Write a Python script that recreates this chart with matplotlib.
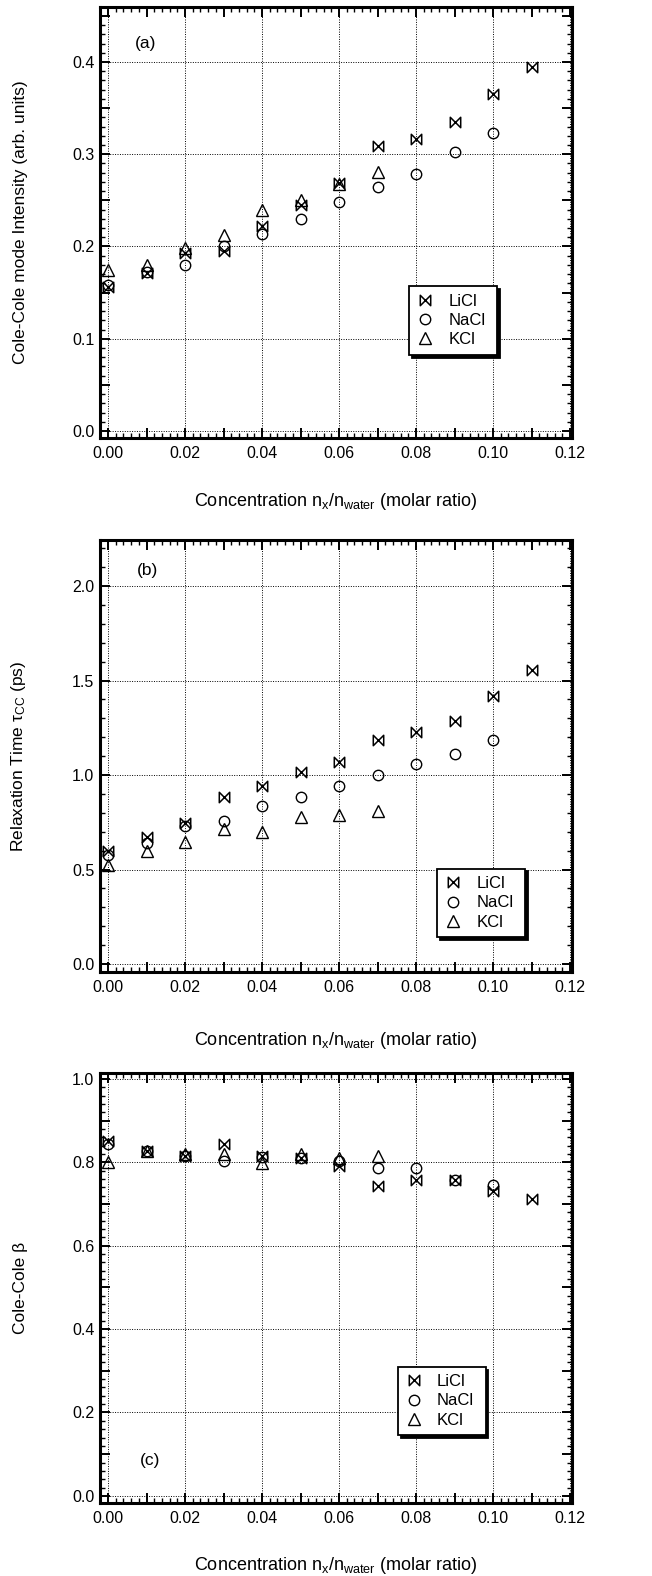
import numpy as np
import matplotlib
matplotlib.use('Agg')
import matplotlib.pyplot as plt
from matplotlib.path import Path
from matplotlib.ticker import MultipleLocator, FuncFormatter

# ---------------- DATA ----------------
conc_li = [0.00, 0.01, 0.02, 0.03, 0.04, 0.05, 0.06, 0.07, 0.08, 0.09, 0.10, 0.11]
conc_na = [0.00, 0.01, 0.02, 0.03, 0.04, 0.05, 0.06, 0.07, 0.08, 0.09, 0.10]
conc_k = [0.00, 0.01, 0.02, 0.03, 0.04, 0.05, 0.06, 0.07]

# (a) Cole-Cole mode intensity
int_licl = [0.156, 0.171, 0.193, 0.195, 0.222, 0.245, 0.269, 0.309, 0.317, 0.335, 0.365, 0.395]
int_nacl = [0.158, 0.172, 0.180, 0.200, 0.214, 0.230, 0.248, 0.265, 0.279, 0.302, 0.323]
int_kcl = [0.174, 0.180, 0.198, 0.212, 0.240, 0.250, 0.268, 0.281]

# (b) relaxation time tau_CC (ps)
tau_licl = [0.600, 0.672, 0.746, 0.882, 0.940, 1.014, 1.069, 1.188, 1.226, 1.285, 1.421, 1.555]
tau_nacl = [0.578, 0.643, 0.733, 0.758, 0.838, 0.882, 0.944, 0.998, 1.059, 1.113, 1.184]
tau_kcl = [0.525, 0.600, 0.648, 0.714, 0.700, 0.778, 0.790, 0.808]

# (c) Cole-Cole beta
beta_licl = [0.850, 0.828, 0.815, 0.843, 0.815, 0.810, 0.790, 0.744, 0.758, 0.758, 0.730, 0.712]
beta_nacl = [0.843, 0.826, 0.815, 0.804, 0.812, 0.810, 0.802, 0.786, 0.786, 0.758, 0.746]
beta_kcl = [0.800, 0.826, 0.820, 0.820, 0.798, 0.820, 0.810, 0.814]

series_names = ["LiCl", "NaCl", "KCl"]
xlabel = "Concentration n$_\\mathrm{x}$/n$_\\mathrm{water}$ (molar ratio)"
ylabels = ["Cole-Cole mode Intensity (arb. units)",
           "Relaxation Time τ$_\\mathrm{CC}$ (ps)",
           "Cole-Cole β"]
panel_tags = ["(a)", "(b)", "(c)"]

# ---------------- STYLE ----------------
plt.rcParams['font.family'] = ['Liberation Sans', 'DejaVu Sans']
plt.rcParams['mathtext.fontset'] = 'custom'
plt.rcParams['mathtext.rm'] = 'Liberation Sans'
plt.rcParams['mathtext.it'] = 'Liberation Sans:italic'
plt.rcParams['mathtext.bf'] = 'Liberation Sans:bold'

bowtie = Path([(-1, 1), (-1, -1), (1, 1), (1, -1), (-1, 1)],
              [Path.MOVETO, Path.LINETO, Path.LINETO, Path.LINETO, Path.CLOSEPOLY])

fig = plt.figure(figsize=(6.52, 15.76), dpi=100)
W, H = 652.0, 1576.0
left = 100 / W
width = 472 / W
boxes = [(7, 438), (540, 972), (1073, 1503)]

panels = [
    dict(li=int_licl, na=int_nacl, k=int_kcl, ylim=(-0.0076, 0.4596),
         ymaj=0.05, ymin=0.01, ylab_step=0.1, fmt="%.1f",
         leg=(0.655, 0.193, 0.186, 0.169), tag=(0.074, 0.916),
         xlab_y=-0.122),
    dict(li=tau_licl, na=tau_nacl, k=tau_kcl, ylim=(-0.042, 2.244),
         ymaj=0.5, ymin=0.1, ylab_step=0.5, fmt="%.1f",
         leg=(0.714, 0.081, 0.186, 0.169), tag=(0.078, 0.93),
         xlab_y=-0.135),
    dict(li=beta_licl, na=beta_nacl, k=beta_kcl, ylim=(-0.017, 1.014),
         ymaj=0.1, ymin=0.02, ylab_step=0.2, fmt="%.1f",
         leg=(0.631, 0.158, 0.186, 0.170), tag=(0.085, 0.10),
         xlab_y=-0.122),
]

def make_fmt(step, fmt):
    def f(v, pos):
        k = v / step
        if abs(k - round(k)) < 1e-6:
            return fmt % (0.0 if abs(v) < 1e-9 else v)
        return ""
    return FuncFormatter(f)

for i, p in enumerate(panels):
    top, bot = boxes[i]
    ax = fig.add_axes([left, 1 - bot / H, width, (bot - top) / H])
    ax.set_xlim(-0.0021, 0.1205)
    ax.set_ylim(*p['ylim'])

    # grid at labelled ticks
    for gx in np.arange(0.0, 0.1201, 0.02):
        ax.axvline(gx, color='black', lw=0.7, ls=(0, (1, 1.5)), zorder=0)
    for gy in np.arange(0.0, p['ylim'][1], p['ylab_step']):
        ax.axhline(gy, color='black', lw=0.7, ls=(0, (1, 1.5)), zorder=0)

    ax.plot(conc_li, p['li'], ls='none', marker=bowtie, ms=7.5, mfc='none',
            mec='black', mew=1.1, label=series_names[0], zorder=3)
    ax.plot(conc_na, p['na'], ls='none', marker='o', ms=7.5, mfc='none',
            mec='black', mew=1.0, label=series_names[1], zorder=3)
    ax.plot(conc_k, p['k'], ls='none', marker='^', ms=8, mfc='none',
            mec='black', mew=1.0, label=series_names[2], zorder=3)

    ax.xaxis.set_major_locator(MultipleLocator(0.01))
    ax.xaxis.set_minor_locator(MultipleLocator(0.002))
    ax.xaxis.set_major_formatter(make_fmt(0.02, "%.2f"))
    ax.yaxis.set_major_locator(MultipleLocator(p['ymaj']))
    ax.yaxis.set_minor_locator(MultipleLocator(p['ymin']))
    ax.yaxis.set_major_formatter(make_fmt(p['ylab_step'], p['fmt']))

    ax.tick_params(which='both', direction='in', top=True, right=True,
                   colors='black', labelsize=11.5)
    ax.tick_params(which='major', length=7, width=1.4)
    ax.tick_params(which='minor', length=3.5, width=1.0)
    ax.tick_params(axis='x', pad=6)
    ax.tick_params(axis='y', pad=4)
    for s in ax.spines.values():
        s.set_linewidth(2.2)

    ax.set_xlabel(xlabel, fontsize=13)
    ax.xaxis.set_label_coords(0.5, p['xlab_y'])
    ax.set_ylabel(ylabels[i], fontsize=12.5)
    ax.yaxis.set_label_coords(-0.152, 0.5)

    ax.text(p['tag'][0], p['tag'][1], panel_tags[i], transform=ax.transAxes,
            fontsize=12.5, ha='left', va='center')

    leg = ax.legend(loc='lower left', bbox_to_anchor=p['leg'], mode='expand',
                    borderaxespad=0, fontsize=12, frameon=True, fancybox=False,
                    shadow={'color': 'black', 'alpha': 1.0},
                    handlelength=1.0, handletextpad=0.9, labelspacing=0.25,
                    borderpad=0.45)
    leg.get_frame().set_edgecolor('black')
    leg.get_frame().set_linewidth(1.3)
    leg.get_frame().set_alpha(1.0)

fig.savefig('out.png', dpi=100)
